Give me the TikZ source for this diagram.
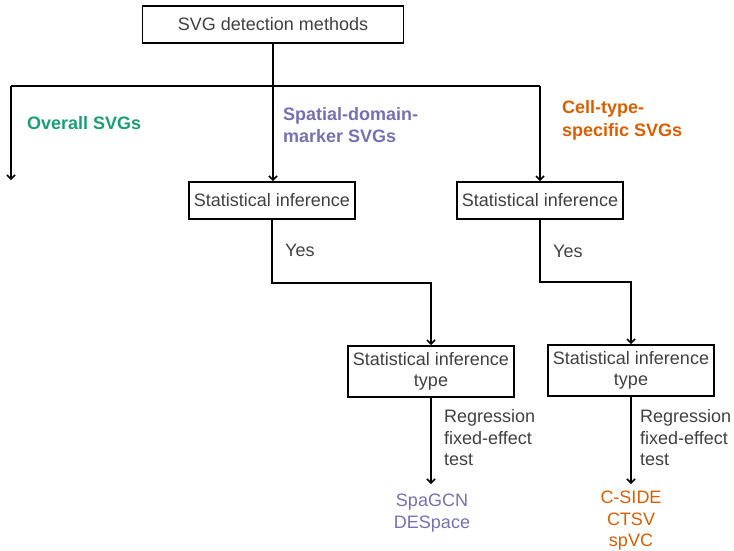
\documentclass[tikz,border=0pt]{standalone}
\usepackage{fontspec}
\setmainfont{Liberation Sans}
\usetikzlibrary{arrows.meta}
\definecolor{txtgray}{HTML}{404040}
\definecolor{dgreen}{HTML}{1B9E77}
\definecolor{dpurple}{HTML}{7570B3}
\definecolor{dorange}{HTML}{D95F02}
\begin{document}
\begin{tikzpicture}[x=1pt,y=-1pt,
  every node/.style={font=\fontsize{18}{21.5}\selectfont, text=txtgray},
  box/.style={draw=black, line width=1.9pt, inner sep=0pt, align=center, minimum width=166pt, minimum height=37pt},
  wire/.style={draw=black, line width=1.9pt},
  arr/.style={wire, -{Straight Barb[length=4pt,width=8pt,line width=1.5pt]}},
  cat/.style={font=\fontsize{18}{22.5}\selectfont\bfseries, align=left, anchor=west, inner sep=0pt},
  lbl/.style={align=left, anchor=west, inner sep=0pt},
  res/.style={align=center, inner sep=0pt}]
\useasboundingbox (0,0) rectangle (734,550);

% root
\node[box, minimum width=261pt] (top) at (273,24.5) {SVG detection methods};

% category labels
\node[cat, text=dgreen] (overall) at (27,123) {Overall SVGs};
\node[cat, text=dpurple] (spatial) at (283,125) {Spatial-domain-\\marker SVGs};
\node[cat, text=dorange] (celltype) at (562,120.5) {Cell-type-\\specific SVGs};

% first level boxes
\node[box] (si1) at (272,200.5) {Statistical inference};
\node[box] (si2) at (540,200.5) {Statistical inference};

% second level boxes
\node[box, minimum height=51pt] (sit1) at (431,371.5) {Statistical inference\\type};
\node[box, minimum height=51pt] (sit2) at (631,370.5) {Statistical inference\\type};

% edge labels
\node[lbl] (yes1) at (285,250) {Yes};
\node[lbl] (yes2) at (553,251) {Yes};
\node[lbl] (reg1) at (444,438) {Regression\\fixed-effect\\test};
\node[lbl] (reg2) at (640,438) {Regression\\fixed-effect\\test};

% method lists
\node[res, text=dpurple] (m1) at (432,513) {SpaGCN\\DESpace};
\node[res, text=dorange] (m2) at (631,521) {C-SIDE\\CTSV\\spVC};

% junctions of the branching bar
\coordinate (jL) at (11,86);
\coordinate (jM) at (273,86);
\coordinate (jR) at (540,86);
\coordinate (endL) at (11,180);
\coordinate (m1top) at (431,484);
\coordinate (m2top) at (631,484);

% connectors
\draw[wire] (top.south) -- (jM);
\draw[wire] (jL) -- (jR);
\draw[arr] (jL) -- (endL);
\draw[arr] (jM) -- (jM |- si1.north);
\draw[arr] (jR) -- (jR |- si2.north);
\draw[arr] (si1.south) -- (si1.south |- 0,283) -| (sit1.north);
\draw[arr] (si2.south) -- (si2.south |- 0,282) -| (sit2.north);
\draw[arr] (sit1.south) -- (m1top);
\draw[arr] (sit2.south) -- (m2top);
\end{tikzpicture}
\end{document}
